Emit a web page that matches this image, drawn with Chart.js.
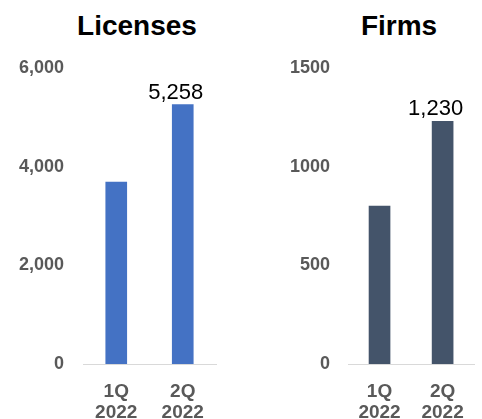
<!DOCTYPE html>
<html>
<head>
<meta charset="utf-8">
<script src="https://cdn.jsdelivr.net/npm/chart.js@4/dist/chart.umd.min.js"></script>
<style>
  html, body { margin: 0; padding: 0; background: #fff; overflow: hidden; }
  #wrap { position: relative; width: 482px; height: 419px; }
  .panel { position: absolute; top: 0; width: 241px; height: 419px; }
  .title {
    position: absolute; top: 10px; line-height: 28px;
    font: bold 28px "Liberation Sans", Arial, sans-serif; color: #000;
    transform: translateX(-50%); white-space: nowrap;
  }
</style>
</head>
<body>
<div id="wrap">
  <div class="title" style="left:137px">Licenses</div>
  <div class="title" style="left:399px">Firms</div>
  <div class="panel" style="left:0"><canvas id="licChart" width="241" height="419"></canvas></div>
  <div class="panel" style="left:241px"><canvas id="firmChart" width="241" height="419"></canvas></div>
</div>
<script>
// Quarter categories (two-line labels)
const quarters = [['1Q', '2022'], ['2Q', '2022']];

// Licenses per quarter
const licenses = [3690, 5258];
// Firms per quarter
const firms = [800, 1230];

// Value axis ranges
const licenseAxis = { max: 6000, step: 2000 };
const firmAxis = { max: 1500, step: 500 };

// Which bars carry a value label (index into the series)
const labelledBars = [1];

const FONT = '"Liberation Sans", Arial, sans-serif';
const TICK_GREY = '#595959';

// Draws the value above the labelled bars
const valueLabels = {
  id: 'valueLabels',
  afterDatasetsDraw(chart, args, opts) {
    const ctx = chart.ctx;
    const meta = chart.getDatasetMeta(0);
    const data = chart.data.datasets[0].data;
    ctx.save();
    ctx.font = '22px ' + FONT;
    ctx.fillStyle = '#000';
    ctx.textAlign = 'center';
    ctx.textBaseline = 'alphabetic';
    labelledBars.forEach(i => {
      const bar = meta.data[i];
      ctx.fillText(data[i].toLocaleString('en-US'), bar.x + opts.dx, bar.y - 6);
    });
    ctx.restore();
  }
};

function makeChart(canvasId, values, color, axis, axisWidth, labelRight, rightPad, tickFmt) {
  return new Chart(document.getElementById(canvasId), {
    type: 'bar',
    data: {
      labels: quarters,
      datasets: [{ data: values, backgroundColor: color, barThickness: 21 }]
    },
    options: {
      responsive: false,
      animation: false,
      layout: { padding: { top: 68, right: rightPad, bottom: 0, left: 0 } },
      plugins: {
        legend: { display: false },
        tooltip: { enabled: false },
        valueLabels: { dx: -7 }
      },
      scales: {
        x: {
          grid: { display: false, drawTicks: false },
          border: { display: true, color: '#D9D9D9', width: 1 },
          ticks: {
            color: TICK_GREY,
            font: { family: FONT, size: 19, weight: 'bold', lineHeight: '21px' },
            padding: 17,
            maxRotation: 0,
            autoSkip: false
          },
          afterFit(scale) { scale.height = 55; }
        },
        y: {
          min: 0,
          max: axis.max,
          grid: { display: false, drawTicks: false },
          border: { display: false },
          ticks: {
            stepSize: axis.step,
            color: TICK_GREY,
            font: { family: FONT, size: 18, weight: 'bold' },
            padding: axisWidth - labelRight,
            callback: tickFmt
          },
          afterFit(scale) { scale.width = axisWidth; }
        }
      }
    },
    plugins: [valueLabels]
  });
}

makeChart('licChart', licenses, '#4472C4', licenseAxis, 83, 64, 25,
  v => Number(v).toLocaleString('en-US'));
makeChart('firmChart', firms, '#44546A', firmAxis, 107, 89, 5,
  v => String(v));
</script>
</body>
</html>
